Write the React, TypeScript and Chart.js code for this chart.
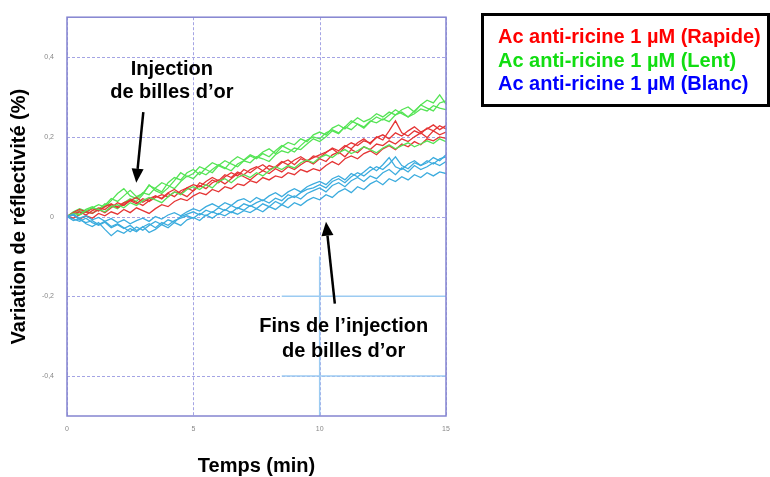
import { useEffect, useRef } from "react";
import { Chart, registerables } from "chart.js";

Chart.register(...registerables);

const FONT = "'Liberation Sans', Arial, sans-serif";

const times = [
  0, 0.25, 0.5, 0.75, 1, 1.25, 1.5, 1.75, 2, 2.25,
  2.5, 2.75, 3, 3.25, 3.5, 3.75, 4, 4.25, 4.5, 4.75,
  5, 5.25, 5.5, 5.75, 6, 6.25, 6.5, 6.75, 7, 7.25,
  7.5, 7.75, 8, 8.25, 8.5, 8.75, 9, 9.25, 9.5, 9.75,
  10, 10.25, 10.5, 10.75, 11, 11.25, 11.5, 11.75, 12, 12.25,
  12.5, 12.75, 13, 13.25, 13.5, 13.75, 14, 14.25, 14.5, 14.75,
  15,
];

const xTicks = [0, 5, 10, 15];
const yTicks = [-0.4, -0.2, 0, 0.2, 0.4];

// Ac anti-ricine 1 µM (Rapide) — red traces
const rapide1 = [
  0.000, 0.006, 0.012, 0.004, 0.015, 0.022, 0.018, 0.030, 0.025, 0.035,
  0.040, 0.032, 0.045, 0.038, 0.048, 0.055, 0.050, 0.062, 0.058, 0.072,
  0.080, 0.075, 0.088, 0.098, 0.090, 0.105, 0.098, 0.112, 0.105, 0.118,
  0.125, 0.115, 0.128, 0.122, 0.135, 0.142, 0.130, 0.145, 0.138, 0.152,
  0.148, 0.160, 0.172, 0.165, 0.178, 0.170, 0.185, 0.195, 0.182, 0.200,
  0.192, 0.215, 0.240, 0.210, 0.202, 0.215, 0.208, 0.222, 0.215, 0.228,
  0.220,
];
const rapide2 = [
  0.000, -0.004, 0.005, 0.012, 0.008, 0.018, 0.010, 0.022, 0.035, 0.028,
  0.040, 0.048, 0.036, 0.045, 0.052, 0.044, 0.058, 0.050, 0.065, 0.072,
  0.064, 0.078, 0.070, 0.085, 0.092, 0.082, 0.095, 0.108, 0.100, 0.092,
  0.105, 0.115, 0.108, 0.120, 0.112, 0.125, 0.118, 0.130, 0.140, 0.132,
  0.145, 0.138, 0.155, 0.162, 0.150, 0.168, 0.160, 0.175, 0.168, 0.182,
  0.178, 0.190, 0.182, 0.195, 0.188, 0.200, 0.210, 0.198, 0.215, 0.205,
  0.212,
];
const rapide3 = [
  0.000, 0.004, -0.006, 0.002, -0.004, 0.008, 0.002, 0.012, 0.006, 0.018,
  0.010, 0.022, 0.015, 0.008, 0.020, 0.030, 0.025, 0.038, 0.045, 0.040,
  0.052, 0.060, 0.055, 0.068, 0.062, 0.075, 0.070, 0.082, 0.078, 0.090,
  0.085, 0.098, 0.092, 0.102, 0.098, 0.110, 0.105, 0.118, 0.112, 0.120,
  0.115, 0.128, 0.138, 0.130, 0.145, 0.152, 0.145, 0.158, 0.165, 0.155,
  0.170, 0.178, 0.168, 0.182, 0.175, 0.188, 0.180, 0.195, 0.190, 0.200,
  0.196,
];
const rapide4 = [
  0.000, 0.010, 0.018, 0.012, 0.020, 0.014, 0.025, 0.032, 0.022, 0.030,
  0.042, 0.036, 0.028, 0.040, 0.052, 0.046, 0.060, 0.068, 0.058, 0.050,
  0.065, 0.085, 0.078, 0.092, 0.085, 0.100, 0.110, 0.102, 0.118, 0.110,
  0.122, 0.130, 0.118, 0.125, 0.138, 0.130, 0.142, 0.150, 0.140, 0.148,
  0.155, 0.162, 0.170, 0.158, 0.175, 0.185, 0.178, 0.190, 0.185, 0.198,
  0.205, 0.195, 0.210, 0.202, 0.215, 0.225, 0.212, 0.220, 0.230, 0.218,
  0.228,
];

// Ac anti-ricine 1 µM (Lent) — green traces
const lent1 = [
  0.000, 0.010, 0.006, 0.018, 0.025, 0.015, 0.028, 0.045, 0.038, 0.052,
  0.066, 0.050, 0.058, 0.078, 0.070, 0.062, 0.085, 0.098, 0.092, 0.110,
  0.118, 0.105, 0.122, 0.135, 0.128, 0.120, 0.138, 0.150, 0.142, 0.155,
  0.148, 0.162, 0.170, 0.158, 0.175, 0.186, 0.180, 0.195, 0.188, 0.205,
  0.212, 0.205, 0.222, 0.230, 0.220, 0.235, 0.248, 0.238, 0.245, 0.258,
  0.250, 0.262, 0.255, 0.268, 0.275, 0.262, 0.280, 0.292, 0.285, 0.305,
  0.282,
];
const lent2 = [
  0.000, 0.005, 0.015, 0.010, 0.022, 0.030, 0.024, 0.040, 0.058, 0.070,
  0.052, 0.045, 0.060, 0.055, 0.072, 0.085, 0.078, 0.070, 0.088, 0.102,
  0.095, 0.112, 0.105, 0.118, 0.130, 0.122, 0.115, 0.132, 0.140, 0.135,
  0.150, 0.145, 0.138, 0.155, 0.165, 0.160, 0.172, 0.168, 0.182, 0.195,
  0.188, 0.200, 0.215, 0.208, 0.225, 0.218, 0.232, 0.225, 0.240, 0.235,
  0.245, 0.238, 0.255, 0.262, 0.250, 0.258, 0.270, 0.265, 0.278, 0.272,
  0.268,
];
const lent3 = [
  0.000, 0.012, 0.020, 0.014, 0.008, 0.018, 0.032, 0.026, 0.020, 0.035,
  0.045, 0.038, 0.055, 0.080, 0.065, 0.058, 0.072, 0.090, 0.110, 0.100,
  0.108, 0.125, 0.118, 0.110, 0.128, 0.140, 0.132, 0.125, 0.140, 0.152,
  0.145, 0.158, 0.150, 0.165, 0.178, 0.170, 0.162, 0.178, 0.192, 0.200,
  0.195, 0.210, 0.218, 0.210, 0.225, 0.240, 0.232, 0.222, 0.238, 0.250,
  0.242, 0.255, 0.268, 0.258, 0.250, 0.265, 0.280, 0.272, 0.265, 0.285,
  0.290,
];
const lent4 = [
  0.000, 0.008, 0.004, 0.015, 0.022, 0.018, 0.012, 0.025, 0.030, 0.022,
  0.035, 0.028, 0.040, 0.048, 0.042, 0.035, 0.050, 0.062, 0.055, 0.068,
  0.075, 0.068, 0.080, 0.072, 0.088, 0.095, 0.085, 0.098, 0.105, 0.098,
  0.110, 0.102, 0.115, 0.125, 0.118, 0.128, 0.122, 0.135, 0.142, 0.135,
  0.148, 0.155, 0.148, 0.160, 0.168, 0.158, 0.165, 0.175, 0.168, 0.160,
  0.172, 0.180, 0.170, 0.178, 0.185, 0.175, 0.182, 0.190, 0.183, 0.195,
  0.188,
];

// Ac anti-ricine 1 µM (Blanc) — blue traces
const blanc1 = [
  0.000, 0.006, -0.004, 0.002, -0.008, -0.002, -0.012, -0.005, -0.015, -0.008,
  -0.018, -0.010, -0.004, -0.012, 0.000, -0.006, 0.004, 0.010, 0.002, 0.012,
  0.020, 0.014, 0.025, 0.032, 0.024, 0.035, 0.028, 0.040, 0.045, 0.036,
  0.048, 0.040, 0.052, 0.060, 0.050, 0.062, 0.070, 0.062, 0.075, 0.082,
  0.088, 0.080, 0.095, 0.102, 0.092, 0.108, 0.100, 0.112, 0.125, 0.115,
  0.130, 0.148, 0.125, 0.118, 0.132, 0.140, 0.128, 0.135, 0.148, 0.140,
  0.155,
];
const blanc2 = [
  0.000, -0.006, -0.012, -0.004, -0.015, -0.022, -0.014, -0.028, -0.020, -0.030,
  -0.022, -0.035, -0.026, -0.018, -0.028, -0.015, -0.022, -0.010, -0.004, 0.002,
  -0.004, 0.008, 0.002, 0.012, 0.005, 0.018, 0.010, 0.022, 0.016, 0.028,
  0.020, 0.032, 0.025, 0.038, 0.030, 0.045, 0.052, 0.044, 0.058, 0.065,
  0.072, 0.062, 0.078, 0.085, 0.075, 0.090, 0.098, 0.088, 0.102, 0.095,
  0.110, 0.118, 0.105, 0.122, 0.112, 0.128, 0.118, 0.125, 0.135, 0.128,
  0.138,
];
const blanc3 = [
  0.000, -0.010, -0.005, -0.018, -0.025, -0.015, -0.032, -0.048, -0.035, -0.042,
  -0.030, -0.038, -0.025, -0.040, -0.032, -0.020, -0.028, -0.015, -0.022, -0.008,
  -0.002, -0.010, 0.004, -0.004, 0.008, 0.002, 0.012, 0.006, 0.015, 0.010,
  0.020, 0.012, 0.025, 0.018, 0.030, 0.022, 0.035, 0.028, 0.040, 0.048,
  0.042, 0.055, 0.048, 0.062, 0.070, 0.060, 0.075, 0.068, 0.082, 0.090,
  0.080, 0.095, 0.088, 0.100, 0.092, 0.105, 0.098, 0.110, 0.102, 0.112,
  0.108,
];
const blanc4 = [
  0.000, 0.004, -0.008, -0.015, -0.010, -0.020, -0.012, -0.025, -0.018, -0.028,
  -0.038, -0.026, -0.034, -0.022, -0.012, -0.020, -0.008, -0.014, 0.000, 0.006,
  0.012, 0.004, 0.016, 0.010, 0.022, 0.015, 0.028, 0.020, 0.032, 0.026,
  0.035, 0.042, 0.034, 0.046, 0.040, 0.055, 0.048, 0.060, 0.068, 0.072,
  0.080, 0.072, 0.088, 0.095, 0.085, 0.100, 0.110, 0.102, 0.115, 0.125,
  0.118, 0.132, 0.150, 0.128, 0.120, 0.135, 0.128, 0.140, 0.132, 0.145,
  0.150,
];

const legendLabels = [
  "Ac anti-ricine 1 µM (Rapide)",
  "Ac anti-ricine 1 µM (Lent)",
  "Ac anti-ricine 1 µM (Blanc)",
];
const legendColors = ["#ff0000", "#11dd11", "#0000ff"];
const lineColors = ["#e53535", "#55e455", "#3cacde"];

const xTitle = "Temps (min)";
const yTitle = "Variation de réflectivité (%)";

// annotations, in data units
const note1Lines = ["Injection", "de billes d’or"];
const note1Pos = { x: 4.15, y: 0.368, dy: 0.058 };
const arrow1 = { x1: 3.02, y1: 0.262, x2: 2.74, y2: 0.085 };
const note2Lines = ["Fins de l’injection", "de billes d’or"];
const note2Pos = { x: 10.95, y: -0.275, dy: -0.062 };
const arrow2 = { x1: 10.6, y1: -0.218, x2: 10.25, y2: -0.013 };

// light blue grid fragments in lower right
const blueSegs = [
  [8.5, -0.2, 15, -0.2],
  [8.5, -0.4, 15, -0.4],
  [10, -0.1, 10, -0.5],
];

export default function App() {
  const ref = useRef<HTMLCanvasElement>(null);

  useEffect(() => {
    if (!ref.current) return;
    const mk = (vals: number[], color: string) => ({
      data: vals.map((y, i) => ({ x: times[i], y })),
      borderColor: color,
      borderWidth: 1.3,
      pointRadius: 0,
      tension: 0,
      fill: false,
    });

    const datasets = [
      mk(blanc1, lineColors[2]),
      mk(blanc2, lineColors[2]),
      mk(blanc3, lineColors[2]),
      mk(blanc4, lineColors[2]),
      mk(lent4, lineColors[1]),
      mk(rapide1, lineColors[0]),
      mk(rapide2, lineColors[0]),
      mk(rapide3, lineColors[0]),
      mk(rapide4, lineColors[0]),
      mk(lent1, lineColors[1]),
      mk(lent2, lineColors[1]),
      mk(lent3, lineColors[1]),
    ];

    const drawArrow = (ctx: CanvasRenderingContext2D, x1: number, y1: number, x2: number, y2: number) => {
      const ang = Math.atan2(y2 - y1, x2 - x1);
      const head = 14;
      const half = 6;
      const bx = x2 - head * Math.cos(ang);
      const by = y2 - head * Math.sin(ang);
      ctx.beginPath();
      ctx.moveTo(x1, y1);
      ctx.lineTo(bx, by);
      ctx.lineWidth = 2.5;
      ctx.strokeStyle = "#000";
      ctx.stroke();
      ctx.beginPath();
      ctx.moveTo(x2, y2);
      ctx.lineTo(bx + half * Math.sin(ang), by - half * Math.cos(ang));
      ctx.lineTo(bx - half * Math.sin(ang), by + half * Math.cos(ang));
      ctx.closePath();
      ctx.fillStyle = "#000";
      ctx.fill();
    };

    const plugin = {
      id: "decor",
      beforeDatasetsDraw(chart: any) {
        const { ctx, chartArea: a, scales } = chart;
        const xs = scales.x;
        const ys = scales.y;
        ctx.save();
        ctx.strokeStyle = "#a4a4e4";
        ctx.lineWidth = 1;
        ctx.setLineDash([3, 2]);
        yTicks.forEach((v) => {
          const py = Math.round(ys.getPixelForValue(v)) + 0.5;
          ctx.beginPath();
          ctx.moveTo(a.left, py);
          ctx.lineTo(a.right, py);
          ctx.stroke();
        });
        xTicks.forEach((v) => {
          const px = Math.round(xs.getPixelForValue(v)) + 0.5;
          ctx.beginPath();
          ctx.moveTo(px, a.top);
          ctx.lineTo(px, a.bottom);
          ctx.stroke();
        });
        ctx.setLineDash([]);
        ctx.strokeStyle = "#9ccbf2";
        ctx.lineWidth = 1.5;
        blueSegs.forEach(([x1, y1, x2, y2]) => {
          ctx.beginPath();
          ctx.moveTo(xs.getPixelForValue(x1), ys.getPixelForValue(y1));
          ctx.lineTo(xs.getPixelForValue(x2), ys.getPixelForValue(y2));
          ctx.stroke();
        });
        ctx.restore();
      },
      afterDatasetsDraw(chart: any) {
        const { ctx, chartArea: a, scales } = chart;
        const xs = scales.x;
        const ys = scales.y;
        ctx.save();
        ctx.strokeStyle = "#8484d0";
        ctx.lineWidth = 1.5;
        ctx.strokeRect(a.left, a.top, a.right - a.left, a.bottom - a.top);

        ctx.fillStyle = "#000";
        ctx.font = `bold 20px ${FONT}`;
        ctx.textAlign = "center";
        ctx.textBaseline = "middle";
        note1Lines.forEach((t, i) => {
          ctx.fillText(t, xs.getPixelForValue(note1Pos.x), ys.getPixelForValue(note1Pos.y - i * note1Pos.dy));
        });
        note2Lines.forEach((t, i) => {
          ctx.fillText(t, xs.getPixelForValue(note2Pos.x), ys.getPixelForValue(note2Pos.y + i * note2Pos.dy));
        });
        drawArrow(
          ctx,
          xs.getPixelForValue(arrow1.x1),
          ys.getPixelForValue(arrow1.y1),
          xs.getPixelForValue(arrow1.x2),
          ys.getPixelForValue(arrow1.y2)
        );
        drawArrow(
          ctx,
          xs.getPixelForValue(arrow2.x1),
          ys.getPixelForValue(arrow2.y1),
          xs.getPixelForValue(arrow2.x2),
          ys.getPixelForValue(arrow2.y2)
        );
        ctx.restore();
      },
    };

    const chart = new Chart(ref.current, {
      type: "line",
      data: { datasets },
      plugins: [plugin],
      options: {
        animation: false,
        responsive: false,
        maintainAspectRatio: false,
        layout: { padding: { left: 0, top: 14, right: 324, bottom: 0 } },
        plugins: {
          legend: { display: false },
          tooltip: { enabled: false },
        },
        scales: {
          x: {
            type: "linear",
            min: 0,
            max: 15,
            afterBuildTicks: (axis: any) => {
              axis.ticks = xTicks.map((v) => ({ value: v }));
            },
            afterFit: (axis: any) => {
              axis.height = 61;
            },
            grid: { display: false, drawTicks: false },
            border: { display: false },
            ticks: {
              padding: 9,
              color: "#888",
              font: { size: 7, family: FONT },
              maxRotation: 0,
              callback: (v: any) => String(v).replace(".", ","),
            },
            title: {
              display: true,
              text: xTitle,
              color: "#000",
              font: { size: 20, weight: "bold", family: FONT },
              padding: { top: 0, bottom: -1 },
            },
          },
          y: {
            type: "linear",
            min: -0.5,
            max: 0.5,
            afterBuildTicks: (axis: any) => {
              axis.ticks = yTicks.map((v) => ({ value: v }));
            },
            afterFit: (axis: any) => {
              axis.width = 67;
            },
            grid: { display: false, drawTicks: false },
            border: { display: false },
            ticks: {
              padding: 13,
              color: "#888",
              font: { size: 7, family: FONT },
              callback: (v: any) => String(v).replace(".", ","),
            },
            title: {
              display: true,
              text: yTitle,
              color: "#000",
              font: { size: 20, weight: "bold", family: FONT },
              padding: { top: 7, bottom: 0 },
            },
          },
        },
      } as any,
    });
    return () => chart.destroy();
  }, []);

  return (
    <div
      style={{
        position: "fixed",
        left: 0,
        top: 0,
        width: 770,
        height: 477,
        background: "#fff",
        overflow: "hidden",
      }}
    >
      <canvas ref={ref} width={770} height={477} style={{ width: 770, height: 477, display: "block" }} />
      <div
        style={{
          position: "absolute",
          left: 481,
          top: 13,
          width: 289,
          height: 94,
          boxSizing: "border-box",
          border: "3px solid #000",
          paddingLeft: 14,
          paddingTop: 9,
          fontFamily: FONT,
          fontWeight: "bold",
          fontSize: 20,
          lineHeight: "23.5px",
          whiteSpace: "nowrap",
        }}
      >
        {legendLabels.map((t, i) => (
          <div key={t} style={{ color: legendColors[i] }}>
            {t}
          </div>
        ))}
      </div>
    </div>
  );
}
